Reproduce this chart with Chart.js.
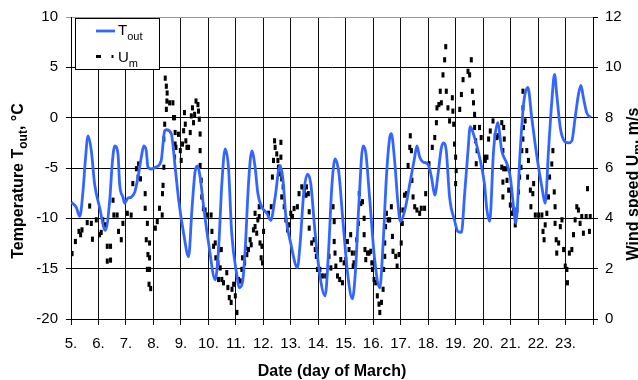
<!DOCTYPE html>
<html>
<head>
<meta charset="utf-8">
<script src="https://cdn.jsdelivr.net/npm/chart.js@4.4.1/dist/chart.umd.min.js"></script>
<style>
  html, body { margin: 0; padding: 0; background: #fff; }
  canvas { display: block; }
</style>
</head>
<body>
<canvas id="grafico" width="638" height="380"></canvas>
<script>
// Outdoor temperature (°C), day of March
const tempDays = [5.01,5.19,5.32,5.44,5.52,5.62,5.74,5.86,6.04,6.25,6.41,6.50,6.59,6.71,6.77,6.89,6.95,7.07,7.19,7.32,7.44,7.56,7.65,7.74,7.80,7.92,8.10,8.28,8.41,8.47,8.65,8.79,8.92,9.10,9.28,9.40,9.52,9.61,9.70,9.83,10.01,10.25,10.37,10.49,10.61,10.73,10.85,11.04,11.12,11.24,11.34,11.46,11.58,11.70,11.80,11.95,12.13,12.27,12.43,12.60,12.71,12.82,13.00,13.24,13.34,13.47,13.61,13.73,13.87,14.05,14.25,14.38,14.49,14.61,14.75,14.89,15.07,15.24,15.36,15.47,15.63,15.73,15.87,16.05,16.24,16.36,16.48,16.60,16.66,16.78,16.90,16.99,17.15,17.33,17.51,17.59,17.69,17.81,17.99,18.12,18.24,18.36,18.48,18.56,18.66,18.78,18.96,19.08,19.21,19.33,19.45,19.53,19.69,19.87,20.05,20.14,20.24,20.38,20.53,20.68,20.87,20.99,21.11,21.19,21.35,21.47,21.63,21.77,21.96,22.14,22.26,22.38,22.50,22.60,22.68,22.81,22.93,23.11,23.23,23.35,23.47,23.56,23.65,23.77,23.92];
const tempOut = [-8.4,-8.9,-9.8,-7.2,-4.3,-1.8,-3.3,-6.6,-8.9,-11.2,-8.2,-4.6,-2.8,-3.6,-6.6,-7.9,-8.5,-8.0,-7.9,-7.4,-5.9,-3.9,-2.8,-3.3,-4.9,-5.1,-4.9,-4.3,-1.3,-1.2,-1.6,-4.9,-8.2,-11.5,-13.8,-9.2,-5.3,-4.8,-5.9,-8.9,-12.5,-16.1,-13.1,-6.6,-3.1,-4.9,-11.5,-15.7,-16.9,-16.4,-13.1,-6.6,-3.3,-4.9,-7.5,-8.9,-9.5,-10.2,-7.9,-4.8,-6.0,-9.8,-12.5,-14.9,-12.5,-7.5,-5.6,-6.6,-11.0,-15.5,-17.7,-13.0,-7.0,-4.1,-5.5,-10.0,-15.5,-18.0,-15.0,-9.0,-2.8,-3.5,-8.0,-14.0,-16.9,-12.5,-5.9,-2.0,-1.6,-4.3,-8.5,-10.3,-9.2,-6.6,-3.9,-2.8,-3.9,-4.4,-4.6,-5.9,-7.7,-5.6,-3.0,-2.5,-3.3,-7.9,-10.2,-11.3,-11.4,-7.5,-3.3,-0.9,-2.0,-3.9,-6.6,-9.2,-10.3,-3.3,-0.5,-3.3,-4.6,-5.9,-8.9,-10.5,-3.3,1.3,3.0,0.0,-3.9,-6.9,-8.5,-3.3,1.6,4.3,2.3,-1.0,-2.2,-2.5,-2.3,0.0,2.3,3.2,2.0,0.5,0.0];

// Wind speed (m/s), day of March
const windDays = [5.04,5.16,5.29,5.35,5.40,5.59,5.68,5.74,5.78,5.92,6.04,6.10,6.16,6.25,6.32,6.44,6.32,6.44,6.53,6.56,6.68,6.73,6.83,6.89,7.05,7.19,7.25,7.38,7.46,7.44,7.53,7.70,7.70,7.78,7.74,7.86,7.80,7.86,7.78,7.86,7.84,7.90,8.07,8.14,8.22,8.32,8.33,8.35,8.38,8.38,8.41,8.43,8.47,8.50,8.49,8.59,8.47,8.71,8.77,8.79,8.79,8.77,
  8.73,8.82,8.91,8.98,9.01,9.06,9.10,9.13,9.16,9.18,9.22,9.28,9.34,9.38,9.42,9.46,9.50,9.55,9.62,9.64,9.67,9.70,9.70,9.70,9.74,9.76,9.82,9.88,9.95,10.10,10.13,10.19,10.25,10.27,10.35,10.39,10.47,10.43,10.37,10.49,10.55,10.67,10.71,10.76,10.83,10.86,10.92,10.98,11.04,11.10,11.16,11.22,11.24,11.32,11.36,11.40,11.46,11.52,11.56,11.64,11.70,11.70,11.76,11.80,11.85,11.85,11.88,11.95,11.92,11.97,12.01,12.19,12.29,12.33,12.37,12.41,12.43,12.49,
  12.53,12.55,12.64,12.64,12.60,12.58,12.67,12.72,12.67,12.76,12.82,12.88,12.94,13.00,13.06,13.12,13.24,13.30,13.40,13.49,13.55,13.57,13.64,13.67,13.67,13.76,13.85,13.89,13.93,13.97,14.06,14.15,14.27,14.39,14.46,14.54,14.58,14.58,14.61,14.64,14.70,14.78,14.82,14.88,14.94,15.00,15.06,15.12,15.18,15.24,15.27,15.30,15.36,15.40,15.46,15.49,15.55,15.61,15.67,15.67,15.70,15.73,15.79,15.85,15.91,15.95,15.97,16.03,16.09,16.15,16.21,16.24,
  16.30,16.36,16.38,16.42,16.42,16.45,16.48,16.54,16.60,16.66,16.70,16.72,16.82,16.87,16.94,17.02,17.06,17.08,17.14,17.21,17.27,17.33,17.35,17.39,17.41,17.45,17.51,17.59,17.69,17.75,17.87,17.91,18.03,18.15,18.24,18.30,18.32,18.39,18.44,18.48,18.54,18.60,18.64,18.66,18.72,18.78,18.88,18.90,18.93,18.96,19.00,19.02,19.00,19.15,19.21,19.27,19.45,19.51,19.57,19.61,19.65,19.69,19.69,19.73,19.78,19.75,19.87,19.93,20.05,
  20.08,20.14,20.20,20.26,20.36,20.44,20.50,20.56,20.68,20.75,20.77,20.72,20.68,20.75,20.84,20.72,20.72,20.87,20.93,20.99,21.05,21.11,21.17,21.23,21.29,21.33,21.38,21.41,21.45,21.47,21.45,21.45,21.53,21.59,21.62,21.65,21.72,21.74,21.81,21.84,21.90,22.02,22.14,22.18,22.22,22.26,22.32,22.38,22.42,22.50,22.54,22.59,22.62,22.62,22.66,22.68,22.75,22.81,22.87,22.93,22.99,23.05,23.07,23.14,23.23,23.29,23.35,23.41,23.47,23.53,23.59,23.65,23.75,23.80,23.87,23.90];
const windSpeed = [2.60,3.08,3.48,3.35,3.54,3.83,4.49,3.80,3.17,3.94,3.35,3.44,3.94,3.74,2.89,2.89,2.30,2.34,4.72,4.13,4.13,3.48,3.15,3.80,4.20,4.13,5.38,5.97,6.16,5.64,5.57,4.98,4.40,3.80,3.15,3.02,2.56,2.43,1.97,1.97,1.38,1.21,3.61,3.87,4.40,4.13,4.98,5.31,6.03,7.15,7.74,9.57,9.25,8.98,8.66,8.59,8.33,8.59,8.00,7.41,6.95,6.43,
  8.00,6.82,7.34,6.69,6.30,6.95,7.48,8.20,7.74,7.08,6.82,6.82,7.41,8.07,8.39,7.80,8.13,8.66,8.52,8.26,7.94,7.35,6.69,6.10,5.51,4.85,4.39,4.33,4.13,4.13,3.48,2.89,3.02,2.43,2.23,2.76,2.76,2.03,1.57,1.57,1.44,1.84,1.25,0.85,0.66,1.18,1.38,0.92,0.26,1.57,1.51,1.97,2.43,2.23,2.82,2.56,2.76,3.15,2.95,3.54,4.20,3.67,3.41,3.94,4.46,4.07,3.02,2.89,2.43,2.23,3.48,4.20,4.46,5.64,6.30,7.08,6.82,6.56,
  6.30,6.03,7.02,6.43,6.03,5.77,5.57,5.25,4.85,4.46,3.94,3.54,3.74,4.20,4.07,4.39,4.46,4.98,5.25,5.12,4.92,5.25,4.98,4.26,3.61,3.02,3.15,2.76,2.49,1.97,1.97,1.71,1.71,2.49,2.03,4.46,3.87,3.08,2.62,2.10,1.71,1.57,2.36,1.44,2.23,2.36,3.08,2.76,3.35,2.62,2.10,2.23,2.62,3.15,3.80,4.98,4.59,4.66,4.00,3.35,2.76,2.36,2.62,2.62,2.69,2.23,1.97,1.57,1.44,0.92,0.59,0.26,
  0.66,1.18,1.97,2.49,3.02,3.67,4.20,3.94,3.94,4.46,3.28,2.69,2.49,2.10,2.56,3.02,3.80,4.33,4.92,4.98,6.10,6.82,7.28,6.69,5.51,4.85,4.46,4.33,4.20,4.40,4.40,4.98,6.17,6.82,7.21,7.80,8.39,8.52,9.05,8.59,9.70,10.30,10.82,9.05,8.39,7.87,8.79,8.26,7.74,6.95,6.43,5.90,5.38,8.33,8.92,9.51,9.84,9.70,10.30,9.05,8.59,8.13,7.61,7.08,6.69,6.17,7.61,7.21,6.43,
  6.30,6.43,7.15,7.47,7.87,7.28,7.21,7.28,7.80,7.61,7.15,6.69,6.03,5.97,5.97,5.44,4.85,5.51,5.12,4.53,4.20,4.33,3.74,4.33,5.05,5.64,6.03,6.69,7.15,7.61,8.39,9.05,7.87,6.69,5.64,6.30,5.12,4.46,4.98,5.38,4.13,4.13,4.13,3.48,3.15,3.74,4.20,4.85,5.64,6.16,6.69,5.05,4.46,3.80,3.15,2.62,3.02,3.67,3.94,2.76,2.10,1.97,1.44,2.62,2.76,3.35,3.94,4.46,4.33,3.80,4.07,3.41,4.07,5.18,3.48,4.07];

// x-axis tick labels, one per day
const dayLabels = ['5.','6.','7.','8.','9.','10.','11.','12.','13.','14.','15.','16.','17.','18.','19.','20.','21.','22.','23.'];

const FONT = '"Liberation Sans", Arial, sans-serif';
const BLUE = '#3366ff';

// draws text runs with optional subscript parts, centred on (x, y)
function richText(ctx, parts, x, y, size, bold, align) {
  const w = bold ? 'bold ' : '';
  const subSize = Math.round(size * 0.75);
  let total = 0;
  parts.forEach(p => {
    ctx.font = w + (p.sub ? subSize : size) + 'px ' + FONT;
    p.w = ctx.measureText(p.t).width;
    total += p.w;
  });
  let cx = align === 'left' ? x : x - total / 2;
  ctx.textBaseline = 'alphabetic';
  ctx.textAlign = 'left';
  parts.forEach(p => {
    ctx.font = w + (p.sub ? subSize : size) + 'px ' + FONT;
    ctx.fillText(p.t, cx, y + size * 0.36 + (p.sub ? size * 0.28 : 0));
    cx += p.w;
  });
}

const titlesAndLegend = {
  id: 'titlesAndLegend',
  afterDraw(chart) {
    const ctx = chart.ctx;
    const area = chart.chartArea;
    ctx.save();
    ctx.fillStyle = '#000';

    // x axis title
    richText(ctx, [{t: 'Date (day of March)'}], (area.left + area.right) / 2, 370, 16, true, 'center');

    // left axis title
    ctx.save();
    ctx.translate(17, 181);
    ctx.rotate(-Math.PI / 2);
    richText(ctx, [{t: 'Temperature T'}, {t: 'out', sub: true}, {t: ', °C'}], 0, 0, 16, true, 'center');
    ctx.restore();

    // right axis title
    ctx.save();
    ctx.translate(632, 184);
    ctx.rotate(-Math.PI / 2);
    richText(ctx, [{t: 'Wind speed U'}, {t: 'm', sub: true}, {t: ', m/s'}], 0, 0, 16, true, 'center');
    ctx.restore();

    // legend box
    ctx.fillStyle = '#fff';
    ctx.fillRect(75.5, 18.5, 84, 51);
    ctx.strokeStyle = '#000';
    ctx.lineWidth = 1;
    ctx.strokeRect(75.5, 18.5, 84, 51);

    ctx.strokeStyle = BLUE;
    ctx.lineWidth = 2.8;
    ctx.beginPath();
    ctx.moveTo(96, 31);
    ctx.lineTo(115, 31);
    ctx.stroke();

    ctx.fillStyle = '#000';
    ctx.fillRect(96, 55, 5, 3);
    ctx.fillRect(111.5, 55, 2, 3);

    richText(ctx, [{t: 'T'}, {t: 'out', sub: true}], 118, 30, 15, false, 'left');
    richText(ctx, [{t: 'U'}, {t: 'm', sub: true}], 118, 57, 15, false, 'left');
    ctx.restore();
  }
};

const ctx = document.getElementById('grafico').getContext('2d');
new Chart(ctx, {
  type: 'scatter',
  data: {
    datasets: [
      {
        label: 'Tout',
        data: tempDays.map((d, i) => ({x: d, y: tempOut[i]})),
        yAxisID: 'y',
        showLine: true,
        borderColor: BLUE,
        borderWidth: 2.8,
        pointRadius: 0,
        cubicInterpolationMode: 'monotone',
        order: 0
      },
      {
        label: 'Um',
        data: windDays.map((d, i) => ({x: d, y: windSpeed[i]})),
        yAxisID: 'y1',
        showLine: false,
        pointStyle: 'line',
        rotation: 90,
        pointRadius: 2.6,
        borderWidth: 3,
        borderColor: '#000',
        backgroundColor: '#000',
        order: 1
      }
    ]
  },
  options: {
    responsive: false,
    animation: false,
    events: [],
    layout: {padding: {top: 15, left: 0, right: 0, bottom: 0}},
    plugins: {legend: {display: false}, tooltip: {enabled: false}},
    scales: {
      x: {
        type: 'linear',
        min: 5,
        max: 24,
        afterBuildTicks: s => { s.ticks = []; for (let v = 5; v <= 24; v++) s.ticks.push({value: v}); },
        afterFit: s => { s.height = 61; },
        ticks: {
          autoSkip: false,
          maxRotation: 0,
          padding: 10,
          color: '#000',
          font: {family: FONT, size: 15},
          callback: v => dayLabels[v - 5] || ''
        },
        grid: {color: '#111', lineWidth: 1, tickLength: 6},
        border: {color: '#000', width: 1}
      },
      y: {
        position: 'left',
        min: -20,
        max: 10,
        afterFit: s => { s.width = 71; },
        ticks: {stepSize: 5, padding: 8, color: '#000', font: {family: FONT, size: 15}},
        grid: {color: c => c.tick && c.tick.value === 10 ? '#999' : '#000', lineWidth: 1, tickLength: 5},
        border: {color: '#000', width: 1}
      },
      y1: {
        position: 'right',
        min: 0,
        max: 12,
        afterFit: s => { s.width = 45; },
        ticks: {stepSize: 2, padding: 7, color: '#000', font: {family: FONT, size: 15}},
        grid: {drawOnChartArea: false, color: '#000', tickLength: 5},
        border: {color: '#000', width: 1}
      }
    }
  },
  plugins: [titlesAndLegend]
});
</script>
</body>
</html>
